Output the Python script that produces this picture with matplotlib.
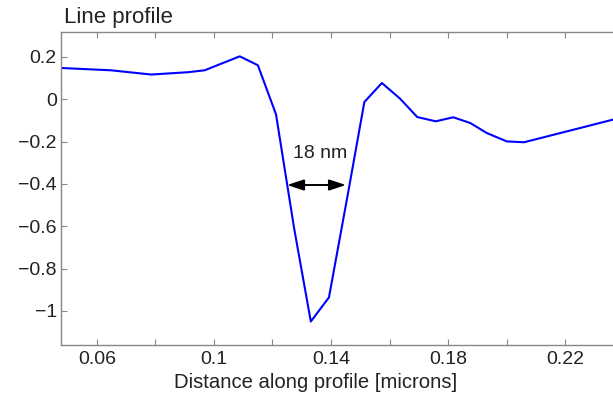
import matplotlib
matplotlib.use("Agg")
import matplotlib.pyplot as plt

# Data
distance = [0.0477, 0.0648, 0.0786, 0.0911, 0.0968, 0.1088, 0.1150, 0.1212,
            0.1274, 0.1331, 0.1393, 0.1460, 0.1514, 0.1574, 0.1636, 0.1695,
            0.1758, 0.1818, 0.1876, 0.1932, 0.2001, 0.2060, 0.2296, 0.2364]
height = [0.148, 0.137, 0.117, 0.128, 0.137, 0.203, 0.161, -0.071,
          -0.610, -1.050, -0.936, -0.430, -0.013, 0.077, 0.003, -0.084,
          -0.104, -0.085, -0.112, -0.159, -0.199, -0.203, -0.120, -0.096]

xticks = [0.06, 0.08, 0.10, 0.12, 0.14, 0.16, 0.18, 0.20, 0.22]
xticklabels = ["0.06", "", "0.1", "", "0.14", "", "0.18", "", "0.22"]
yticks = [0.2, 0.0, -0.2, -0.4, -0.6, -0.8, -1.0]
yticklabels = ["0.2", "0", "\u22120.2", "\u22120.4", "\u22120.6", "\u22120.8", "\u22121"]

arrow_x = [0.1250, 0.1451]
arrow_y = -0.405
width_label = "18 nm"

plt.rcParams['font.family'] = ['Liberation Sans', 'DejaVu Sans']

fig = plt.figure(figsize=(6.13, 3.95), dpi=100)
ax = fig.add_axes([61/613, 50/395, 1 - 61/613, (345-32)/395])

ax.plot(distance, height, color="#0000ff", lw=1.5)

ax.set_xlim(0.0477, 0.2364)
ax.set_ylim(-1.161, 0.318)

ax.set_xticks(xticks)
ax.set_xticklabels(xticklabels)
ax.set_yticks(yticks)
ax.set_yticklabels(yticklabels)

grey = "#888888"
for s in ["left", "bottom", "top"]:
    ax.spines[s].set_color(grey)
    ax.spines[s].set_linewidth(1.0)
ax.spines["right"].set_visible(False)

fs = 14
ax.tick_params(axis="both", direction="in", length=4, width=0.8, color=grey,
               labelsize=fs, labelcolor="#222222")
ax.tick_params(axis="x", top=True, pad=4)
ax.tick_params(axis="y", pad=3)

ax.set_xlabel("Distance along profile [microns]", fontsize=14.6, color="#222222")
ax.xaxis.set_label_coords((316 - 61) / (613 - 61), -0.09)

ax.text(0.005, 1.012, "Line profile", transform=ax.transAxes, fontsize=16,
        color="#222222", ha="left", va="bottom")

ax.annotate("", xy=(arrow_x[0], arrow_y), xytext=(arrow_x[1], arrow_y),
            arrowprops=dict(arrowstyle="<|-|>,head_length=1.0,head_width=0.33",
                            color="black", lw=1.4, shrinkA=0, shrinkB=0))
ax.text(0.1362, -0.258, width_label, fontsize=fs, color="#222222",
        ha="center", va="center")

fig.savefig("out.png", dpi=100)
